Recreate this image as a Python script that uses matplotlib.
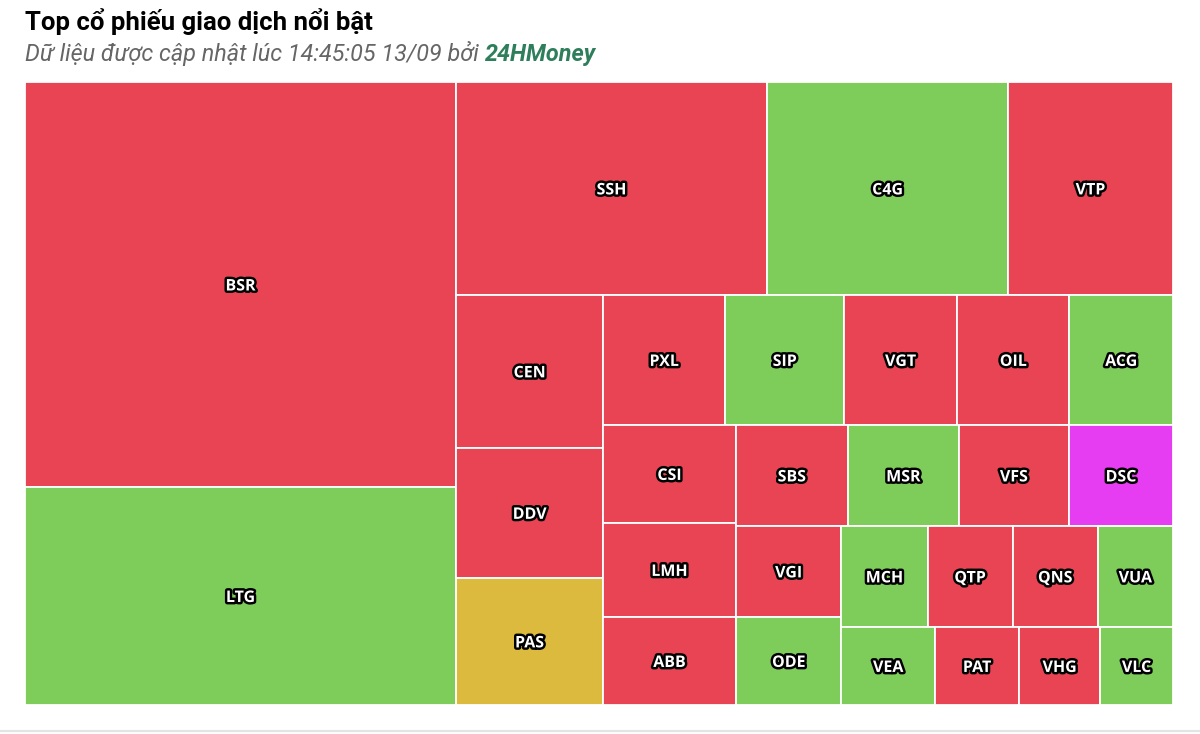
import matplotlib
matplotlib.use("Agg")
import matplotlib.pyplot as plt
import matplotlib.patheffects as pe
from matplotlib.patches import Rectangle

# trading value per ticker, largest first
tickers = ["BSR", "LTG", "SSH", "C4G", "VTP", "CEN", "DDV", "PAS",
           "PXL", "SIP", "VGT", "OIL", "ACG", "CSI", "LMH", "ABB",
           "SBS", "MSR", "VFS", "DSC", "VGI", "ODE",
           "MCH", "QTP", "QNS", "VUA", "VEA", "PAT", "VHG", "VLC"]
values = [174.6, 94.0, 66.2, 51.3, 35.1, 22.5, 19.1, 18.7,
          15.9, 15.5, 14.7, 14.6, 13.5, 13.0, 12.5, 11.7,
          11.3, 11.2, 11.1, 10.5, 9.6, 9.3,
          8.7, 8.6, 8.6, 7.6, 7.3, 6.6, 6.3, 5.7]
status = ["down", "up", "down", "up", "down", "down", "down", "ref",
          "down", "up", "down", "down", "up", "down", "down", "down",
          "down", "up", "down", "ceil", "down", "up",
          "up", "down", "down", "up", "up", "down", "down", "up"]

# how many items go in each strip, and the strip direction
strip_sizes = [2, 3, 3, 5, 3, 4, 2, 4, 4]
strip_dirs = ["v", "h", "v", "h", "v", "h", "v", "h", "h"]

colors = {"down": "#e84454", "up": "#7ecd5a", "ref": "#dbba3e", "ceil": "#e63cf2"}


def layout(vals, sizes, dirs, W, H):
    # strip treemap: each strip takes its share of the remaining rectangle
    x, y, w, h = 0.0, 0.0, W, H
    remaining = sum(vals)
    rects = []
    i = 0
    for n, d in zip(sizes, dirs):
        grp = vals[i:i + n]
        s = sum(grp)
        frac = s / remaining
        if d == "v":
            sw = w * frac
            yy = y
            for v in grp:
                hh = h * v / s
                rects.append((x, yy, sw, hh))
                yy += hh
            x += sw
            w -= sw
        else:
            sh = h * frac
            xx = x
            for v in grp:
                ww = w * v / s
                rects.append((xx, y, ww, sh))
                xx += ww
            y += sh
            h -= sh
        remaining -= s
        i += n
    return rects


W, H = 1148, 623
rects = layout(values, strip_sizes, strip_dirs, W, H)

fig = plt.figure(figsize=(12, 7.34), dpi=100)
ax = fig.add_axes([25 / 1200, 29 / 734, 1148 / 1200, 623 / 734])
ax.set_xlim(0, W)
ax.set_ylim(H, 0)
ax.axis("off")

for (x, y, w, h), t, st in zip(rects, tickers, status):
    ax.add_patch(Rectangle((x, y), w, h, facecolor=colors[st],
                           edgecolor="white", linewidth=1.3))
    ax.text(x + w / 2, y + h / 2 + 2, t, ha="center", va="center",
            fontsize=11.5, fontweight="bold", family="Open Sans", color="white",
            path_effects=[pe.withStroke(linewidth=3.5, foreground="black")])

fig.text(25 / 1200, 1 - 30 / 734, "Top cổ phiếu giao dịch nổi bật",
         fontsize=18.5, fontweight="bold", family="Roboto", color="black",
         ha="left", va="baseline")
sub = fig.text(25 / 1200, 1 - 61 / 734, "Dữ liệu được cập nhật lúc 14:45:05 13/09 bởi ",
               fontsize=16.8, style="italic", family="Roboto", color="#666666",
               ha="left", va="baseline")
fig.canvas.draw()
bb = sub.get_window_extent()
fig.text(bb.x1 / 1200, 1 - 61 / 734, "24HMoney", fontsize=16.8, style="italic",
         fontweight="bold", family="Roboto", color="#2e7d5b",
         ha="left", va="baseline")

fig.add_artist(plt.Line2D([0, 1], [1 - 731 / 734, 1 - 731 / 734],
                          color="#e3e3e3", linewidth=1.5))

fig.savefig("out.png", dpi=100, facecolor="white")
